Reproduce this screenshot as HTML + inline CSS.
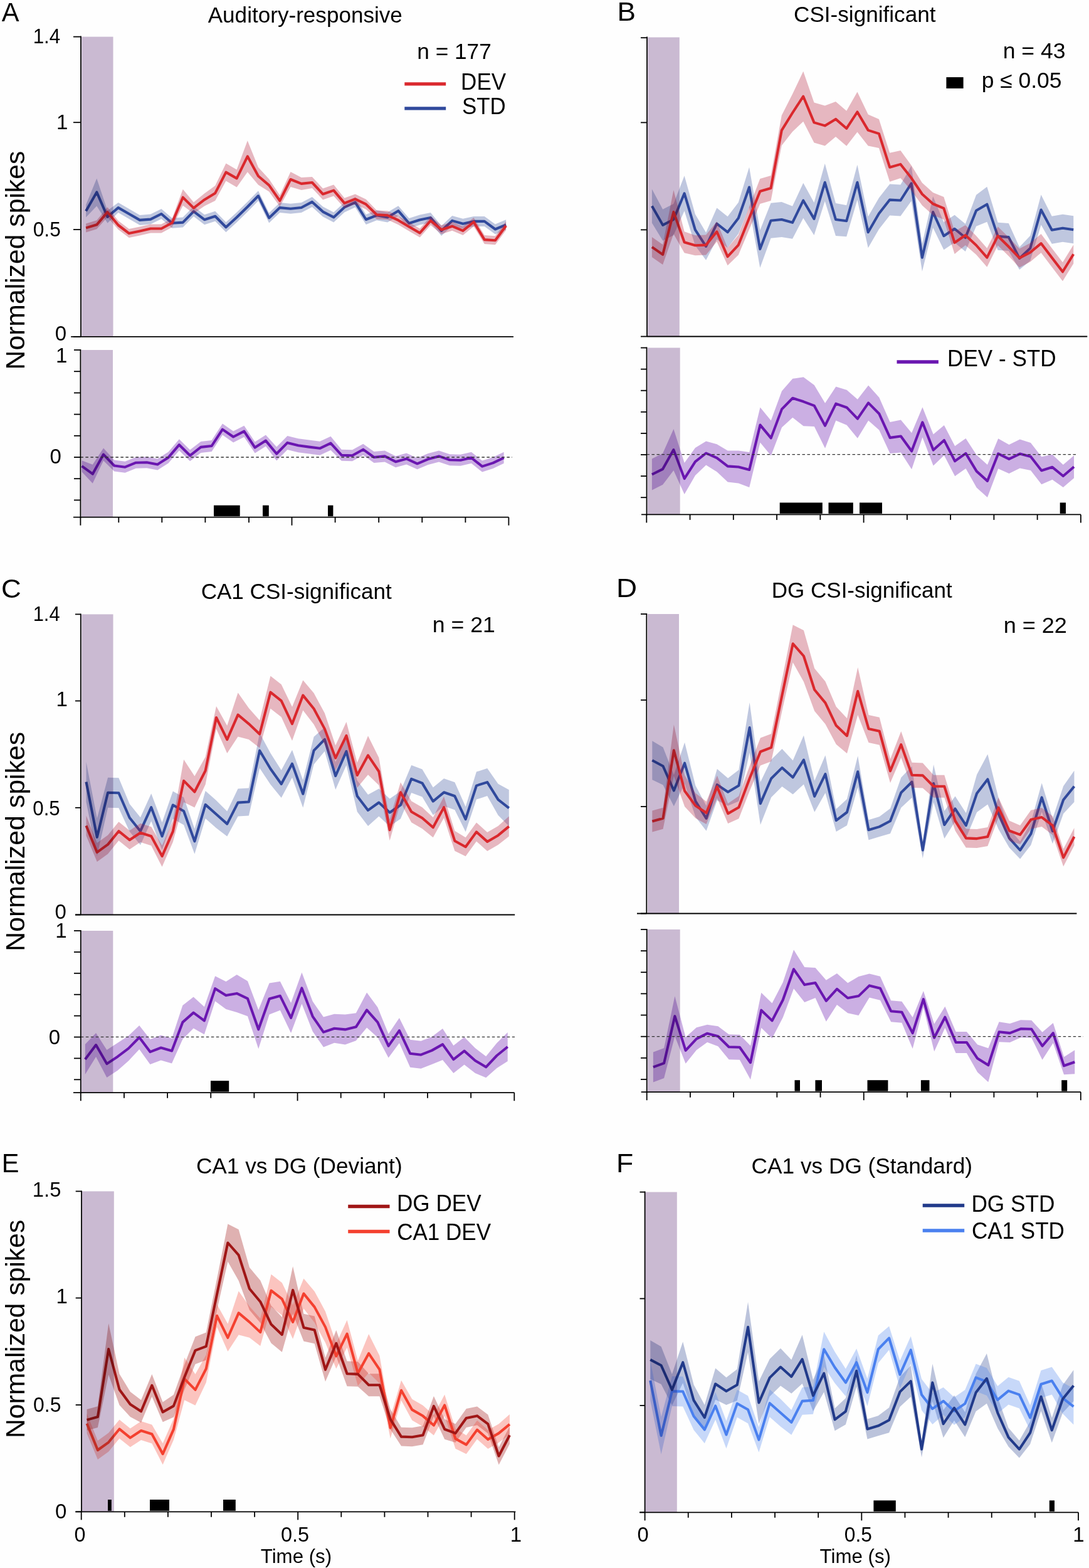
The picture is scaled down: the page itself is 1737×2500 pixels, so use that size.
<!DOCTYPE html>
<html><head><meta charset="utf-8"><title>Figure</title>
<style>html,body{margin:0;padding:0;background:#fefefe;}svg{display:block;}</style>
</head><body>
<svg width="1737" height="2500" viewBox="0 0 1737 2500" font-family="&quot;Liberation Sans&quot;, sans-serif" fill="#000">
<rect width="100%" height="100%" fill="#fefefe"/>
<polygon points="137.1,326.4 154.28,284.4 171.46,335.8 188.64,323.1 205.82,333 223,342.9 240.18,341.6 257.36,333 274.54,347.7 291.72,346.6 308.9,329.1 326.08,342.2 343.26,336.7 360.44,354.3 377.62,338.5 394.8,321.8 411.98,304.3 429.16,339.4 446.34,323.1 463.52,324.7 480.7,323 497.88,313.9 515.06,329.6 532.24,338.4 549.42,322.5 566.6,314.6 583.78,342 600.96,335.3 618.14,338.4 635.32,328.2 652.5,348 669.68,342.5 686.86,339.1 704.04,359.9 721.22,343.9 738.4,348.7 755.58,344.9 772.76,344.9 789.94,357.5 807.12,350.3 807.12,366.3 789.94,373.5 772.76,360.9 755.58,360.9 738.4,364.7 721.22,359.9 704.04,375.9 686.86,355.1 669.68,358.5 652.5,364 635.32,344.2 618.14,354.4 600.96,351.3 583.78,358 566.6,330.6 549.42,338.5 532.24,354.4 515.06,345.6 497.88,329.9 480.7,339 463.52,340.7 446.34,339.1 429.16,355.4 411.98,320.3 394.8,337.8 377.62,354.5 360.44,370.3 343.26,352.7 326.08,358.2 308.9,345.1 291.72,362.6 274.54,363.7 257.36,349 240.18,357.6 223,358.9 205.82,349 188.64,339.1 171.46,355.8 154.28,328.4 137.1,346.4" fill="#3a53a0" fill-opacity="0.32"/>
<polyline points="137.1,336.4 154.28,306.4 171.46,345.8 188.64,331.1 205.82,341 223,350.9 240.18,349.6 257.36,341 274.54,355.7 291.72,354.6 308.9,337.1 326.08,350.2 343.26,344.7 360.44,362.3 377.62,346.5 394.8,329.8 411.98,312.3 429.16,347.4 446.34,331.1 463.52,332.7 480.7,331 497.88,321.9 515.06,337.6 532.24,346.4 549.42,330.5 566.6,322.6 583.78,350 600.96,343.3 618.14,346.4 635.32,336.2 652.5,356 669.68,350.5 686.86,347.1 704.04,367.9 721.22,351.9 738.4,356.7 755.58,352.9 772.76,352.9 789.94,365.5 807.12,358.3" fill="none" stroke="#30499c" stroke-width="4.1" stroke-linejoin="round"/>
<polygon points="137.1,356.4 154.28,351.3 171.46,330.2 188.64,352 205.82,365.1 223,361.4 240.18,357.5 257.36,357.5 274.54,348.3 291.72,301.7 308.9,322.6 326.08,308.4 343.26,295.9 360.44,260.6 377.62,270.4 394.8,224.3 411.98,266.7 429.16,285.4 446.34,311.2 463.52,274 480.7,282.9 497.88,282 515.06,300.5 532.24,294.6 549.42,315.8 566.6,309.4 583.78,317.7 600.96,335.4 618.14,336.3 635.32,344.2 652.5,354.4 669.68,364.4 686.86,344.9 704.04,359.2 721.22,353.7 738.4,360.9 755.58,347 772.76,375.1 789.94,376.3 807.12,353 807.12,367 789.94,390.3 772.76,389.1 755.58,361 738.4,374.9 721.22,367.7 704.04,373.2 686.86,358.9 669.68,378.4 652.5,368.4 635.32,358.2 618.14,350.3 600.96,349.4 583.78,333.7 566.6,325.4 549.42,331.8 532.24,312.6 515.06,318.5 497.88,300 480.7,302.9 463.52,298 446.34,329.2 429.16,305.4 411.98,294.7 394.8,274.3 377.62,298.4 360.44,288.6 343.26,319.9 326.08,328.4 308.9,340.6 291.72,327.7 274.54,362.3 257.36,371.5 240.18,371.5 223,375.4 205.82,379.1 188.64,366 171.46,346.2 154.28,365.3 137.1,370.4" fill="#b21937" fill-opacity="0.31"/>
<polyline points="137.1,363.4 154.28,358.3 171.46,338.2 188.64,359 205.82,372.1 223,368.4 240.18,364.5 257.36,364.5 274.54,355.3 291.72,314.7 308.9,331.6 326.08,318.4 343.26,307.9 360.44,274.6 377.62,284.4 394.8,249.3 411.98,280.7 429.16,295.4 446.34,320.2 463.52,286 480.7,292.9 497.88,291 515.06,309.5 532.24,303.6 549.42,323.8 566.6,317.4 583.78,325.7 600.96,342.4 618.14,343.3 635.32,351.2 652.5,361.4 669.68,371.4 686.86,351.9 704.04,366.2 721.22,360.7 738.4,367.9 755.58,354 772.76,382.1 789.94,383.3 807.12,360" fill="none" stroke="#da282d" stroke-width="4.1" stroke-linejoin="round"/>
<rect x="130.3" y="58.6" width="50.2" height="478.2" fill="#cbbbd3" style="mix-blend-mode:multiply"/>
<line x1="129" y1="57.6" x2="129" y2="536.8" stroke="#000" stroke-width="1.8"/>
<line x1="113.2" y1="536.8" x2="819" y2="536.8" stroke="#000" stroke-width="1.8"/>
<line x1="117" y1="58.6" x2="129" y2="58.6" stroke="#000" stroke-width="1.8"/>
<line x1="117" y1="195.2" x2="129" y2="195.2" stroke="#000" stroke-width="1.8"/>
<line x1="117" y1="366" x2="129" y2="366" stroke="#000" stroke-width="1.8"/>
<line x1="117" y1="536.8" x2="129" y2="536.8" stroke="#000" stroke-width="1.8"/>
<polygon points="130.5,734.2 147.76,740.7 165.02,714.6 182.28,733.5 199.54,735.7 216.8,728.7 234.06,728.3 251.32,731.4 268.58,720.4 285.84,700.2 303.1,717.3 320.36,703.9 337.62,702 354.88,675.6 372.14,687.5 389.4,678.7 406.66,704.6 423.92,693.6 441.18,712.5 458.44,694.9 475.7,699.2 492.96,701.6 510.22,703.8 527.48,695.7 544.74,716.7 562,717.2 579.26,707.7 596.52,720 613.78,718.4 631.04,727.2 648.3,722.4 665.56,730.3 682.82,723.1 700.08,718.4 717.34,724.3 734.6,724.8 751.86,720.8 769.12,734.6 786.38,729.1 803.64,720.8 803.64,738.8 786.38,747.1 769.12,752.6 751.86,738.8 734.6,742.8 717.34,742.3 700.08,736.4 682.82,741.1 665.56,748.3 648.3,740.4 631.04,745.2 613.78,736.4 596.52,738 579.26,725.7 562,735.2 544.74,734.7 527.48,717.7 510.22,725.8 492.96,723.6 475.7,721.2 458.44,716.9 441.18,734.5 423.92,711.6 406.66,722.6 389.4,696.7 372.14,705.5 354.88,693.6 337.62,720 320.36,721.9 303.1,735.3 285.84,718.2 268.58,738.4 251.32,749.4 234.06,746.3 216.8,746.7 199.54,753.7 182.28,751.5 165.02,734.6 147.76,770.7 130.5,752.2" fill="#6a16b0" fill-opacity="0.34"/>
<polyline points="130.5,743.2 147.76,755.7 165.02,724.6 182.28,742.5 199.54,744.7 216.8,737.7 234.06,737.3 251.32,740.4 268.58,729.4 285.84,709.2 303.1,726.3 320.36,712.9 337.62,711 354.88,684.6 372.14,696.5 389.4,687.7 406.66,713.6 423.92,702.6 441.18,723.5 458.44,705.9 475.7,710.2 492.96,712.6 510.22,714.8 527.48,706.7 544.74,725.7 562,726.2 579.26,716.7 596.52,729 613.78,727.4 631.04,736.2 648.3,731.4 665.56,739.3 682.82,732.1 700.08,727.4 717.34,733.3 734.6,733.8 751.86,729.8 769.12,743.6 786.38,738.1 803.64,729.8" fill="none" stroke="#6a16b0" stroke-width="4.1" stroke-linejoin="round"/>
<rect x="129.6" y="558" width="50.4" height="266.7" fill="#cbbbd3" style="mix-blend-mode:multiply"/>
<line x1="128.4" y1="729" x2="817" y2="729" stroke="#333" stroke-width="1.3" stroke-dasharray="4.5 3.5"/>
<line x1="128.4" y1="557" x2="128.4" y2="825.7" stroke="#000" stroke-width="1.8"/>
<line x1="117" y1="824.7" x2="811.4" y2="824.7" stroke="#000" stroke-width="1.8"/>
<line x1="118" y1="558" x2="128.4" y2="558" stroke="#000" stroke-width="1.8"/>
<line x1="118" y1="592.2" x2="128.4" y2="592.2" stroke="#000" stroke-width="1.8"/>
<line x1="118" y1="626.4" x2="128.4" y2="626.4" stroke="#000" stroke-width="1.8"/>
<line x1="118" y1="660.6" x2="128.4" y2="660.6" stroke="#000" stroke-width="1.8"/>
<line x1="118" y1="694.8" x2="128.4" y2="694.8" stroke="#000" stroke-width="1.8"/>
<line x1="118" y1="729" x2="128.4" y2="729" stroke="#000" stroke-width="1.8"/>
<line x1="118" y1="763.2" x2="128.4" y2="763.2" stroke="#000" stroke-width="1.8"/>
<line x1="118" y1="797.4" x2="128.4" y2="797.4" stroke="#000" stroke-width="1.8"/>
<line x1="128.4" y1="824.7" x2="128.4" y2="837.7" stroke="#000" stroke-width="1.8"/>
<line x1="465.5" y1="824.7" x2="465.5" y2="837.7" stroke="#000" stroke-width="1.8"/>
<line x1="811.4" y1="824.7" x2="811.4" y2="837.7" stroke="#000" stroke-width="1.8"/>
<line x1="189.3" y1="824.7" x2="189.3" y2="833.2" stroke="#000" stroke-width="1.8"/>
<line x1="258.3" y1="824.7" x2="258.3" y2="833.2" stroke="#000" stroke-width="1.8"/>
<line x1="327.4" y1="824.7" x2="327.4" y2="833.2" stroke="#000" stroke-width="1.8"/>
<line x1="397" y1="824.7" x2="397" y2="833.2" stroke="#000" stroke-width="1.8"/>
<line x1="534.6" y1="824.7" x2="534.6" y2="833.2" stroke="#000" stroke-width="1.8"/>
<line x1="604.2" y1="824.7" x2="604.2" y2="833.2" stroke="#000" stroke-width="1.8"/>
<line x1="673.3" y1="824.7" x2="673.3" y2="833.2" stroke="#000" stroke-width="1.8"/>
<line x1="742.4" y1="824.7" x2="742.4" y2="833.2" stroke="#000" stroke-width="1.8"/>
<rect x="341" y="805.7" width="41.7" height="17.5" fill="#000"/>
<rect x="419" y="805.7" width="9.8" height="17.5" fill="#000"/>
<rect x="523" y="805.7" width="8.4" height="17.5" fill="#000"/>
<polygon points="1039.9,301.5 1057.14,333.8 1074.38,325 1091.62,280.3 1108.86,341.4 1126.1,370.8 1143.34,331.6 1160.58,345.2 1177.82,322.8 1195.06,266.5 1212.3,367.1 1229.54,323.8 1246.78,322 1264.02,328.8 1281.26,291.7 1298.5,322.9 1315.74,260.8 1332.98,324 1350.22,327.2 1367.46,262.8 1384.7,345.2 1401.94,315.5 1419.18,293.6 1436.42,294.5 1453.66,264.4 1470.9,388.7 1488.14,313.1 1505.38,354.2 1522.62,342.8 1539.86,357 1557.1,310.7 1574.34,297.7 1591.58,354.7 1608.82,356.1 1626.06,393.9 1643.3,375.7 1660.54,310.5 1677.78,344.7 1695.02,341.8 1712.26,344.2 1712.26,388.2 1695.02,385.8 1677.78,388.7 1660.54,358.5 1643.3,415.7 1626.06,429.9 1608.82,400.1 1591.58,398.7 1574.34,353.7 1557.1,360.7 1539.86,401 1522.62,386.8 1505.38,398.2 1488.14,363.1 1470.9,432.7 1453.66,320.4 1436.42,344.5 1419.18,343.6 1401.94,365.5 1384.7,395.2 1367.46,318.8 1350.22,377.2 1332.98,376 1315.74,320.8 1298.5,374.9 1281.26,347.7 1264.02,380.8 1246.78,378 1229.54,379.8 1212.3,427.1 1195.06,330.5 1177.82,372.8 1160.58,395.2 1143.34,381.6 1126.1,414.8 1108.86,391.4 1091.62,336.3 1074.38,375 1057.14,383.8 1039.9,355.5" fill="#3a53a0" fill-opacity="0.32"/>
<polyline points="1039.9,328.5 1057.14,358.8 1074.38,350 1091.62,308.3 1108.86,366.4 1126.1,392.8 1143.34,356.6 1160.58,370.2 1177.82,347.8 1195.06,298.5 1212.3,397.1 1229.54,351.8 1246.78,350 1264.02,354.8 1281.26,319.7 1298.5,348.9 1315.74,290.8 1332.98,350 1350.22,352.2 1367.46,290.8 1384.7,370.2 1401.94,340.5 1419.18,318.6 1436.42,319.5 1453.66,292.4 1470.9,410.7 1488.14,338.1 1505.38,376.2 1522.62,364.8 1539.86,379 1557.1,335.7 1574.34,325.7 1591.58,376.7 1608.82,378.1 1626.06,411.9 1643.3,395.7 1660.54,334.5 1677.78,366.7 1695.02,363.8 1712.26,366.2" fill="none" stroke="#30499c" stroke-width="4.1" stroke-linejoin="round"/>
<polygon points="1039.9,377.9 1057.14,389.9 1074.38,302.9 1091.62,369.2 1108.86,375.2 1126.1,374.6 1143.34,353.3 1160.58,395.2 1177.82,374.6 1195.06,329.8 1212.3,285 1229.54,280 1246.78,183.9 1264.02,150 1281.26,113.7 1298.5,163.4 1315.74,168.4 1332.98,161.9 1350.22,176.8 1367.46,146.5 1384.7,182.6 1401.94,190.1 1419.18,243.7 1436.42,239.9 1453.66,263.8 1470.9,291.5 1488.14,307 1505.38,314.1 1522.62,368.9 1539.86,359 1557.1,376 1574.34,395.7 1591.58,361.2 1608.82,378.3 1626.06,396.4 1643.3,387.4 1660.54,373.1 1677.78,395.7 1695.02,418.3 1712.26,390.2 1712.26,420.2 1695.02,448.3 1677.78,425.7 1660.54,403.1 1643.3,417.4 1626.06,426.4 1608.82,408.3 1591.58,391.2 1574.34,425.7 1557.1,406 1539.86,391 1522.62,404.9 1505.38,350.1 1488.14,343 1470.9,327.5 1453.66,303.8 1436.42,283.9 1419.18,289.7 1401.94,236.1 1384.7,232.6 1367.46,210.5 1350.22,232.8 1332.98,217.9 1315.74,232.4 1298.5,227.4 1281.26,193.7 1264.02,210 1246.78,231.9 1229.54,320 1212.3,325 1195.06,365.8 1177.82,406.6 1160.58,423.2 1143.34,385.3 1126.1,406.6 1108.86,407.2 1091.62,403.2 1074.38,372.9 1057.14,421.9 1039.9,409.9" fill="#b21937" fill-opacity="0.31"/>
<polyline points="1039.9,393.9 1057.14,405.9 1074.38,337.9 1091.62,386.2 1108.86,391.2 1126.1,390.6 1143.34,369.3 1160.58,409.2 1177.82,390.6 1195.06,347.8 1212.3,305 1229.54,300 1246.78,207.9 1264.02,180 1281.26,153.7 1298.5,195.4 1315.74,200.4 1332.98,189.9 1350.22,204.8 1367.46,178.5 1384.7,207.6 1401.94,213.1 1419.18,266.7 1436.42,261.9 1453.66,283.8 1470.9,309.5 1488.14,325 1505.38,332.1 1522.62,386.9 1539.86,375 1557.1,391 1574.34,410.7 1591.58,376.2 1608.82,393.3 1626.06,411.4 1643.3,402.4 1660.54,388.1 1677.78,410.7 1695.02,433.3 1712.26,405.2" fill="none" stroke="#da282d" stroke-width="4.1" stroke-linejoin="round"/>
<rect x="1033.2" y="59.5" width="50.6" height="477" fill="#cbbbd3" style="mix-blend-mode:multiply"/>
<line x1="1032" y1="58.5" x2="1032" y2="536.5" stroke="#000" stroke-width="1.8"/>
<line x1="1032" y1="536.5" x2="1734.3" y2="536.5" stroke="#000" stroke-width="1.8"/>
<line x1="1022" y1="60.2" x2="1032" y2="60.2" stroke="#000" stroke-width="1.8"/>
<line x1="1022" y1="195.4" x2="1032" y2="195.4" stroke="#000" stroke-width="1.8"/>
<line x1="1022" y1="366.4" x2="1032" y2="366.4" stroke="#000" stroke-width="1.8"/>
<line x1="1022" y1="536.5" x2="1032" y2="536.5" stroke="#000" stroke-width="1.8"/>
<polygon points="1039.9,731.5 1057.16,722.8 1074.42,684.1 1091.68,738.1 1108.94,714.1 1126.2,703.5 1143.46,708.2 1160.72,718.4 1177.98,718.5 1195.24,720.9 1212.5,649.6 1229.76,670.4 1247.02,623.4 1264.28,603.8 1281.54,601.3 1298.8,613.9 1316.06,642.7 1333.32,616.6 1350.58,621.7 1367.84,636.7 1385.1,614.4 1402.36,633.8 1419.62,672.9 1436.88,669.5 1454.14,690.3 1471.4,649.3 1488.66,692.6 1505.92,677.9 1523.18,711.2 1540.44,698.9 1557.7,725.4 1574.96,740.9 1592.22,699.3 1609.48,708.9 1626.74,700.6 1644,706.1 1661.26,728.2 1678.52,724.8 1695.78,741 1713.04,726.3 1713.04,762.3 1695.78,777 1678.52,764.8 1661.26,772.2 1644,750.1 1626.74,746.6 1609.48,754.9 1592.22,747.3 1574.96,792.9 1557.7,777.4 1540.44,746.9 1523.18,759.2 1505.92,725.9 1488.66,742.6 1471.4,697.3 1454.14,748.3 1436.88,721.5 1419.62,722.9 1402.36,685.8 1385.1,670.4 1367.84,698.7 1350.58,677.7 1333.32,670.6 1316.06,714.7 1298.8,679.9 1281.54,679.3 1264.28,665.8 1247.02,681.4 1229.76,726.4 1212.5,705.6 1195.24,776.9 1177.98,770.5 1160.72,768.4 1143.46,752.2 1126.2,741.5 1108.94,758.1 1091.68,788.1 1074.42,750.1 1057.16,772.8 1039.9,781.5" fill="#6a16b0" fill-opacity="0.34"/>
<polyline points="1039.9,756.5 1057.16,747.8 1074.42,717.1 1091.68,763.1 1108.94,736.1 1126.2,722.5 1143.46,730.2 1160.72,743.4 1177.98,744.5 1195.24,748.9 1212.5,677.6 1229.76,698.4 1247.02,652.4 1264.28,634.8 1281.54,640.3 1298.8,646.9 1316.06,678.7 1333.32,643.6 1350.58,649.7 1367.84,667.7 1385.1,642.4 1402.36,659.8 1419.62,697.9 1436.88,695.5 1454.14,719.3 1471.4,673.3 1488.66,717.6 1505.92,701.9 1523.18,735.2 1540.44,722.9 1557.7,751.4 1574.96,766.9 1592.22,723.3 1609.48,731.9 1626.74,723.6 1644,728.1 1661.26,750.2 1678.52,744.8 1695.78,759 1713.04,744.3" fill="none" stroke="#6a16b0" stroke-width="4.1" stroke-linejoin="round"/>
<rect x="1033" y="554.5" width="51.7" height="265.9" fill="#cbbbd3" style="mix-blend-mode:multiply"/>
<line x1="1031.5" y1="724.7" x2="1717" y2="724.7" stroke="#333" stroke-width="1.3" stroke-dasharray="4.5 3.5"/>
<line x1="1031.5" y1="553.5" x2="1031.5" y2="821.4" stroke="#000" stroke-width="1.8"/>
<line x1="1023" y1="820.4" x2="1724" y2="820.4" stroke="#000" stroke-width="1.8"/>
<line x1="1022" y1="554.5" x2="1031.5" y2="554.5" stroke="#000" stroke-width="1.8"/>
<line x1="1022" y1="588.6" x2="1031.5" y2="588.6" stroke="#000" stroke-width="1.8"/>
<line x1="1022" y1="622.7" x2="1031.5" y2="622.7" stroke="#000" stroke-width="1.8"/>
<line x1="1022" y1="656.8" x2="1031.5" y2="656.8" stroke="#000" stroke-width="1.8"/>
<line x1="1022" y1="690.9" x2="1031.5" y2="690.9" stroke="#000" stroke-width="1.8"/>
<line x1="1022" y1="725" x2="1031.5" y2="725" stroke="#000" stroke-width="1.8"/>
<line x1="1022" y1="759.1" x2="1031.5" y2="759.1" stroke="#000" stroke-width="1.8"/>
<line x1="1022" y1="793.2" x2="1031.5" y2="793.2" stroke="#000" stroke-width="1.8"/>
<line x1="1031.3" y1="820.4" x2="1031.3" y2="833.4" stroke="#000" stroke-width="1.8"/>
<line x1="1377.6" y1="820.4" x2="1377.6" y2="833.4" stroke="#000" stroke-width="1.8"/>
<line x1="1723.9" y1="820.4" x2="1723.9" y2="833.4" stroke="#000" stroke-width="1.8"/>
<line x1="1100.56" y1="820.4" x2="1100.56" y2="828.9" stroke="#000" stroke-width="1.8"/>
<line x1="1169.82" y1="820.4" x2="1169.82" y2="828.9" stroke="#000" stroke-width="1.8"/>
<line x1="1239.08" y1="820.4" x2="1239.08" y2="828.9" stroke="#000" stroke-width="1.8"/>
<line x1="1308.34" y1="820.4" x2="1308.34" y2="828.9" stroke="#000" stroke-width="1.8"/>
<line x1="1446.86" y1="820.4" x2="1446.86" y2="828.9" stroke="#000" stroke-width="1.8"/>
<line x1="1516.12" y1="820.4" x2="1516.12" y2="828.9" stroke="#000" stroke-width="1.8"/>
<line x1="1585.38" y1="820.4" x2="1585.38" y2="828.9" stroke="#000" stroke-width="1.8"/>
<line x1="1654.64" y1="820.4" x2="1654.64" y2="828.9" stroke="#000" stroke-width="1.8"/>
<rect x="1243.7" y="801.4" width="68.1" height="17.5" fill="#000"/>
<rect x="1321.5" y="801.4" width="39.3" height="17.5" fill="#000"/>
<rect x="1371" y="801.4" width="36" height="17.5" fill="#000"/>
<rect x="1690.7" y="801.4" width="9.3" height="17.5" fill="#000"/>
<polygon points="137.5,1214.7 154.79,1304.8 172.08,1239.8 189.37,1240.2 206.66,1281.7 223.95,1303.2 241.24,1265.2 258.53,1311.3 275.82,1261.5 293.11,1271.2 310.4,1321.4 327.69,1260.9 344.98,1276.2 362.27,1293.6 379.56,1257.6 396.85,1256.5 414.14,1168.7 431.43,1200.8 448.72,1228 466.01,1195.7 483.3,1243.7 500.59,1174.7 517.88,1159.8 535.17,1215.1 552.46,1175.9 569.75,1244.3 587.04,1266.9 604.33,1257.5 621.62,1273.5 638.91,1261.6 656.2,1219.9 673.49,1226.6 690.78,1255.6 708.07,1241.3 725.36,1247.3 742.65,1286.2 759.94,1230.6 777.23,1225.1 794.52,1249.8 811.81,1259.3 811.81,1317.3 794.52,1299.8 777.23,1269.1 759.94,1274.6 742.65,1326.2 725.36,1291.3 708.07,1285.3 690.78,1299.6 673.49,1270.6 656.2,1263.9 638.91,1305.6 621.62,1317.5 604.33,1301.5 587.04,1316.9 569.75,1294.3 552.46,1219.9 535.17,1259.1 517.88,1197.8 500.59,1218.7 483.3,1287.7 466.01,1239.7 448.72,1272 431.43,1250.8 414.14,1224.7 396.85,1300.5 379.56,1301.6 362.27,1333.6 344.98,1320.2 327.69,1304.9 310.4,1361.4 293.11,1315.2 275.82,1305.5 258.53,1355.3 241.24,1309.2 223.95,1347.2 206.66,1325.7 189.37,1288.2 172.08,1287.8 154.79,1364.8 137.5,1278.7" fill="#3a53a0" fill-opacity="0.32"/>
<polyline points="137.5,1246.7 154.79,1334.8 172.08,1263.8 189.37,1264.2 206.66,1303.7 223.95,1325.2 241.24,1287.2 258.53,1333.3 275.82,1283.5 293.11,1293.2 310.4,1341.4 327.69,1282.9 344.98,1298.2 362.27,1313.6 379.56,1279.6 396.85,1278.5 414.14,1196.7 431.43,1225.8 448.72,1250 466.01,1217.7 483.3,1265.7 500.59,1196.7 517.88,1178.8 535.17,1237.1 552.46,1197.9 569.75,1269.3 587.04,1291.9 604.33,1279.5 621.62,1295.5 638.91,1283.6 656.2,1241.9 673.49,1248.6 690.78,1277.6 708.07,1263.3 725.36,1269.3 742.65,1306.2 759.94,1252.6 777.23,1247.1 794.52,1274.8 811.81,1288.3" fill="none" stroke="#30499c" stroke-width="4.1" stroke-linejoin="round"/>
<polygon points="137.5,1300.4 154.79,1343.9 172.08,1331.4 189.37,1310.2 206.66,1324.2 223.95,1312.8 241.24,1318.3 258.53,1348.1 275.82,1308.6 293.11,1210.9 310.4,1237.5 327.69,1206.7 344.98,1126 362.27,1157.1 379.56,1104.6 396.85,1129.1 414.14,1148.4 431.43,1077.7 448.72,1091.3 466.01,1127.1 483.3,1084.6 500.59,1105 517.88,1137.1 535.17,1188.6 552.46,1150.9 569.75,1216 587.04,1173.3 604.33,1208 621.62,1306.3 638.91,1247.3 656.2,1277.3 673.49,1287.3 690.78,1303.3 708.07,1270.1 725.36,1324.7 742.65,1335.2 759.94,1311.4 777.23,1326.9 794.52,1316.9 811.81,1301.6 811.81,1333.6 794.52,1346.9 777.23,1356.9 759.94,1341.4 742.65,1365.2 725.36,1356.7 708.07,1304.1 690.78,1335.3 673.49,1321.3 656.2,1311.3 638.91,1279.3 621.62,1340.3 604.33,1252 587.04,1235.3 569.75,1256 552.46,1194.9 535.17,1228.6 517.88,1187.1 500.59,1155 483.3,1132.6 466.01,1181.1 448.72,1143.3 431.43,1129.7 414.14,1192.4 396.85,1179.1 379.56,1174.6 362.27,1201.1 344.98,1162 327.69,1250.7 310.4,1287.5 293.11,1278.9 275.82,1342.6 258.53,1382.1 241.24,1348.3 223.95,1342.8 206.66,1354.2 189.37,1340.2 172.08,1361.4 154.79,1373.9 137.5,1332.4" fill="#b21937" fill-opacity="0.31"/>
<polyline points="137.5,1316.4 154.79,1358.9 172.08,1346.4 189.37,1325.2 206.66,1339.2 223.95,1327.8 241.24,1333.3 258.53,1365.1 275.82,1325.6 293.11,1244.9 310.4,1262.5 327.69,1228.7 344.98,1144 362.27,1179.1 379.56,1139.6 396.85,1154.1 414.14,1170.4 431.43,1103.7 448.72,1117.3 466.01,1154.1 483.3,1108.6 500.59,1130 517.88,1162.1 535.17,1208.6 552.46,1172.9 569.75,1236 587.04,1204.3 604.33,1230 621.62,1323.3 638.91,1263.3 656.2,1294.3 673.49,1304.3 690.78,1319.3 708.07,1287.1 725.36,1340.7 742.65,1350.2 759.94,1326.4 777.23,1341.9 794.52,1331.9 811.81,1317.6" fill="none" stroke="#da282d" stroke-width="4.1" stroke-linejoin="round"/>
<rect x="130.3" y="979.4" width="50.2" height="479.1" fill="#cbbbd3" style="mix-blend-mode:multiply"/>
<line x1="128.8" y1="978.4" x2="128.8" y2="1458.5" stroke="#000" stroke-width="1.8"/>
<line x1="120" y1="1458.5" x2="821.2" y2="1458.5" stroke="#000" stroke-width="1.8"/>
<line x1="120" y1="979.4" x2="128.8" y2="979.4" stroke="#000" stroke-width="1.8"/>
<line x1="120" y1="1117.5" x2="128.8" y2="1117.5" stroke="#000" stroke-width="1.8"/>
<line x1="120" y1="1287.8" x2="128.8" y2="1287.8" stroke="#000" stroke-width="1.8"/>
<line x1="120" y1="1458.5" x2="128.8" y2="1458.5" stroke="#000" stroke-width="1.8"/>
<polygon points="135.8,1665.1 153.08,1647.1 170.36,1674.1 187.64,1662.7 204.92,1651.6 222.2,1635 239.48,1657.1 256.76,1650.5 274.04,1655.5 291.32,1602.9 308.6,1589.6 325.88,1605.3 343.16,1556.2 360.44,1565.1 377.72,1553.9 395,1564.2 412.28,1610.3 429.56,1567.6 446.84,1564.8 464.12,1598.9 481.4,1550.4 498.68,1596.6 515.96,1621.6 533.24,1616.7 550.52,1617.4 567.8,1615.3 585.08,1582.4 602.36,1605.9 619.64,1648.6 636.92,1623.1 654.2,1657.8 671.48,1659.7 688.76,1652.9 706.04,1640.1 723.32,1667.1 740.6,1653.6 757.88,1671 775.16,1684.3 792.44,1663 809.72,1646 809.72,1692 792.44,1703 775.16,1718.3 757.88,1711 740.6,1697.6 723.32,1711.1 706.04,1690.1 688.76,1696.9 671.48,1703.7 654.2,1701.8 636.92,1663.1 619.64,1686.6 602.36,1653.9 585.08,1638.4 567.8,1659.3 550.52,1665.4 533.24,1662.7 515.96,1669.6 498.68,1644.6 481.4,1600.4 464.12,1646.9 446.84,1610.8 429.56,1617.6 412.28,1672.3 395,1620.2 377.72,1613.9 360.44,1609.1 343.16,1596.2 325.88,1649.3 308.6,1639.6 291.32,1656.9 274.04,1695.5 256.76,1690.5 239.48,1697.1 222.2,1673 204.92,1691.6 187.64,1706.7 170.36,1718.1 153.08,1685.1 135.8,1713.1" fill="#6a16b0" fill-opacity="0.34"/>
<polyline points="135.8,1689.1 153.08,1666.1 170.36,1696.1 187.64,1684.7 204.92,1671.6 222.2,1654 239.48,1677.1 256.76,1670.5 274.04,1675.5 291.32,1629.9 308.6,1614.6 325.88,1627.3 343.16,1576.2 360.44,1587.1 377.72,1583.9 395,1592.2 412.28,1641.3 429.56,1592.6 446.84,1587.8 464.12,1622.9 481.4,1575.4 498.68,1620.6 515.96,1645.6 533.24,1639.7 550.52,1641.4 567.8,1637.3 585.08,1610.4 602.36,1629.9 619.64,1667.6 636.92,1643.1 654.2,1679.8 671.48,1681.7 688.76,1674.9 706.04,1665.1 723.32,1689.1 740.6,1675.6 757.88,1691 775.16,1701.3 792.44,1683 809.72,1669" fill="none" stroke="#6a16b0" stroke-width="4.1" stroke-linejoin="round"/>
<rect x="129.6" y="1484" width="50.7" height="258.2" fill="#cbbbd3" style="mix-blend-mode:multiply"/>
<line x1="128.8" y1="1653.3" x2="821" y2="1653.3" stroke="#333" stroke-width="1.3" stroke-dasharray="4.5 3.5"/>
<line x1="128.8" y1="1483" x2="128.8" y2="1743.2" stroke="#000" stroke-width="1.8"/>
<line x1="117" y1="1742.2" x2="820.5" y2="1742.2" stroke="#000" stroke-width="1.8"/>
<line x1="118" y1="1484" x2="128.8" y2="1484" stroke="#000" stroke-width="1.8"/>
<line x1="118" y1="1517.9" x2="128.8" y2="1517.9" stroke="#000" stroke-width="1.8"/>
<line x1="118" y1="1551.8" x2="128.8" y2="1551.8" stroke="#000" stroke-width="1.8"/>
<line x1="118" y1="1585.7" x2="128.8" y2="1585.7" stroke="#000" stroke-width="1.8"/>
<line x1="118" y1="1619.6" x2="128.8" y2="1619.6" stroke="#000" stroke-width="1.8"/>
<line x1="118" y1="1653.5" x2="128.8" y2="1653.5" stroke="#000" stroke-width="1.8"/>
<line x1="118" y1="1687.4" x2="128.8" y2="1687.4" stroke="#000" stroke-width="1.8"/>
<line x1="118" y1="1721.3" x2="128.8" y2="1721.3" stroke="#000" stroke-width="1.8"/>
<line x1="128.8" y1="1742.2" x2="128.8" y2="1755.2" stroke="#000" stroke-width="1.8"/>
<line x1="474.55" y1="1742.2" x2="474.55" y2="1755.2" stroke="#000" stroke-width="1.8"/>
<line x1="820.3" y1="1742.2" x2="820.3" y2="1755.2" stroke="#000" stroke-width="1.8"/>
<line x1="197.95" y1="1742.2" x2="197.95" y2="1750.7" stroke="#000" stroke-width="1.8"/>
<line x1="267.1" y1="1742.2" x2="267.1" y2="1750.7" stroke="#000" stroke-width="1.8"/>
<line x1="336.25" y1="1742.2" x2="336.25" y2="1750.7" stroke="#000" stroke-width="1.8"/>
<line x1="405.4" y1="1742.2" x2="405.4" y2="1750.7" stroke="#000" stroke-width="1.8"/>
<line x1="543.7" y1="1742.2" x2="543.7" y2="1750.7" stroke="#000" stroke-width="1.8"/>
<line x1="612.85" y1="1742.2" x2="612.85" y2="1750.7" stroke="#000" stroke-width="1.8"/>
<line x1="682" y1="1742.2" x2="682" y2="1750.7" stroke="#000" stroke-width="1.8"/>
<line x1="751.15" y1="1742.2" x2="751.15" y2="1750.7" stroke="#000" stroke-width="1.8"/>
<rect x="336" y="1723.2" width="29.2" height="17.5" fill="#000"/>
<polygon points="1040.3,1181.3 1057.56,1191.5 1074.82,1235.5 1092.08,1183.7 1109.34,1252.4 1126.6,1284.8 1143.86,1226.1 1161.12,1240.7 1178.38,1227.6 1195.64,1120.1 1212.9,1247.1 1230.16,1211.2 1247.42,1194.1 1264.68,1212.5 1281.94,1172.6 1299.2,1244.7 1316.46,1204.2 1333.72,1290.1 1350.98,1274 1368.24,1205.3 1385.5,1307.3 1402.76,1302.1 1420.02,1289 1437.28,1239.8 1454.54,1221.7 1471.8,1342.5 1489.06,1219 1506.32,1293 1523.58,1269.5 1540.84,1296.2 1558.1,1235 1575.36,1202.4 1592.62,1272.1 1609.88,1321.4 1627.14,1341.5 1644.4,1311.3 1661.66,1248.4 1678.92,1305.2 1696.18,1253.2 1713.44,1228.8 1713.44,1278.8 1696.18,1297.2 1678.92,1345.2 1661.66,1294.4 1644.4,1347.3 1627.14,1369.5 1609.88,1351.4 1592.62,1322.1 1575.36,1282.4 1558.1,1295 1540.84,1336.2 1523.58,1309.5 1506.32,1337 1489.06,1279 1471.8,1368.5 1454.54,1271.7 1437.28,1287.8 1420.02,1329 1402.76,1334.1 1385.5,1339.3 1368.24,1255.3 1350.98,1316 1333.72,1326.1 1316.46,1264.2 1299.2,1294.7 1281.94,1250.6 1264.68,1266.5 1247.42,1254.1 1230.16,1271.2 1212.9,1315.1 1195.64,1200.1 1178.38,1277.6 1161.12,1284.7 1143.86,1276.1 1126.6,1324.8 1109.34,1302.4 1092.08,1249.7 1074.82,1285.5 1057.56,1251.5 1040.3,1243.3" fill="#3a53a0" fill-opacity="0.32"/>
<polyline points="1040.3,1212.3 1057.56,1221.5 1074.82,1260.5 1092.08,1216.7 1109.34,1277.4 1126.6,1304.8 1143.86,1251.1 1161.12,1262.7 1178.38,1252.6 1195.64,1160.1 1212.9,1281.1 1230.16,1241.2 1247.42,1224.1 1264.68,1239.5 1281.94,1211.6 1299.2,1269.7 1316.46,1234.2 1333.72,1308.1 1350.98,1295 1368.24,1230.3 1385.5,1323.3 1402.76,1318.1 1420.02,1309 1437.28,1263.8 1454.54,1246.7 1471.8,1355.5 1489.06,1249 1506.32,1315 1523.58,1289.5 1540.84,1316.2 1558.1,1265 1575.36,1242.4 1592.62,1297.1 1609.88,1336.4 1627.14,1355.5 1644.4,1329.3 1661.66,1271.4 1678.92,1325.2 1696.18,1275.2 1713.44,1253.8" fill="none" stroke="#30499c" stroke-width="4.1" stroke-linejoin="round"/>
<polygon points="1040.3,1292.6 1057.56,1287.8 1074.82,1155.3 1092.08,1236 1109.34,1264.6 1126.6,1278 1143.86,1236.4 1161.12,1281.1 1178.38,1269.3 1195.64,1221.2 1212.9,1176.5 1230.16,1169.9 1247.42,1083.6 1264.68,996.3 1281.94,1005 1299.2,1065.8 1316.46,1086.6 1333.72,1126.8 1350.98,1145.2 1368.24,1064 1385.5,1139.9 1402.76,1143.7 1420.02,1210.3 1437.28,1166.1 1454.54,1215.7 1471.8,1216.4 1489.06,1235.8 1506.32,1235.8 1523.58,1292.6 1540.84,1321.4 1558.1,1322.1 1575.36,1319 1592.62,1271.6 1609.88,1308.5 1627.14,1315.9 1644.4,1291.7 1661.66,1288.1 1678.92,1301.2 1696.18,1353.4 1713.44,1320 1713.44,1348 1696.18,1381.4 1678.92,1331.2 1661.66,1318.1 1644.4,1321.7 1627.14,1345.9 1609.88,1340.5 1592.62,1303.6 1575.36,1349 1558.1,1352.1 1540.84,1351.4 1523.58,1324.6 1506.32,1271.8 1489.06,1271.8 1471.8,1256.4 1454.54,1255.7 1437.28,1208.1 1420.02,1248.3 1402.76,1187.7 1385.5,1183.9 1368.24,1140 1350.98,1201.2 1333.72,1186.8 1316.46,1154.6 1299.2,1133.8 1281.94,1087 1264.68,1056.3 1247.42,1133.6 1230.16,1213.9 1212.9,1220.5 1195.64,1261.2 1178.38,1305.3 1161.12,1313.1 1143.86,1272.4 1126.6,1314 1109.34,1304.6 1092.08,1286 1074.82,1237.3 1057.56,1321.8 1040.3,1326.6" fill="#b21937" fill-opacity="0.31"/>
<polyline points="1040.3,1309.6 1057.56,1304.8 1074.82,1196.3 1092.08,1261 1109.34,1284.6 1126.6,1296 1143.86,1254.4 1161.12,1297.1 1178.38,1287.3 1195.64,1241.2 1212.9,1198.5 1230.16,1191.9 1247.42,1108.6 1264.68,1026.3 1281.94,1046 1299.2,1099.8 1316.46,1120.6 1333.72,1156.8 1350.98,1173.2 1368.24,1102 1385.5,1161.9 1402.76,1165.7 1420.02,1229.3 1437.28,1187.1 1454.54,1235.7 1471.8,1236.4 1489.06,1253.8 1506.32,1253.8 1523.58,1308.6 1540.84,1336.4 1558.1,1337.1 1575.36,1334 1592.62,1287.6 1609.88,1324.5 1627.14,1330.9 1644.4,1306.7 1661.66,1303.1 1678.92,1316.2 1696.18,1367.4 1713.44,1334" fill="none" stroke="#da282d" stroke-width="4.1" stroke-linejoin="round"/>
<rect x="1033" y="979" width="50" height="477.5" fill="#cbbbd3" style="mix-blend-mode:multiply"/>
<line x1="1031.3" y1="978" x2="1031.3" y2="1456.5" stroke="#000" stroke-width="1.8"/>
<line x1="1016" y1="1456.5" x2="1717.4" y2="1456.5" stroke="#000" stroke-width="1.8"/>
<line x1="1022" y1="979" x2="1031.3" y2="979" stroke="#000" stroke-width="1.8"/>
<line x1="1022" y1="1116.2" x2="1031.3" y2="1116.2" stroke="#000" stroke-width="1.8"/>
<line x1="1022" y1="1286" x2="1031.3" y2="1286" stroke="#000" stroke-width="1.8"/>
<line x1="1022" y1="1456.5" x2="1031.3" y2="1456.5" stroke="#000" stroke-width="1.8"/>
<polygon points="1041.9,1677.4 1059.14,1671.1 1076.38,1588.2 1093.62,1653.8 1110.86,1638.3 1128.1,1633.7 1145.34,1636.2 1162.58,1649.3 1179.82,1649.8 1197.06,1667.2 1214.3,1582.7 1231.54,1599.4 1248.78,1566.2 1266.02,1514.3 1283.26,1542.1 1300.5,1543.1 1317.74,1562.8 1334.98,1551.9 1352.22,1567.3 1369.46,1557.1 1386.7,1552.4 1403.94,1556.7 1421.18,1595.2 1438.42,1596.7 1455.66,1622.1 1472.9,1580.1 1490.14,1632.5 1507.38,1604.7 1524.62,1645 1541.86,1645 1559.1,1665.6 1576.34,1671.3 1593.58,1629.3 1610.82,1632.1 1628.06,1626.3 1645.3,1626.8 1662.54,1645.7 1679.78,1631.1 1697.02,1685.3 1714.26,1674.3 1714.26,1712.3 1697.02,1713.3 1679.78,1663.1 1662.54,1689.7 1645.3,1654.8 1628.06,1654.3 1610.82,1662.1 1593.58,1661.3 1576.34,1725.3 1559.1,1709.6 1541.86,1679 1524.62,1679 1507.38,1638.7 1490.14,1676.5 1472.9,1606.1 1455.66,1672.1 1438.42,1630.7 1421.18,1629.2 1403.94,1594.7 1386.7,1590.4 1369.46,1619.1 1352.22,1615.3 1334.98,1601.9 1317.74,1628.8 1300.5,1591.1 1283.26,1598.1 1266.02,1576.3 1248.78,1622.2 1231.54,1655.4 1214.3,1638.7 1197.06,1721.2 1179.82,1689.8 1162.58,1689.3 1145.34,1668.2 1128.1,1661.7 1110.86,1674.3 1093.62,1695.8 1076.38,1652.2 1059.14,1719.1 1041.9,1725.4" fill="#6a16b0" fill-opacity="0.34"/>
<polyline points="1041.9,1701.4 1059.14,1695.1 1076.38,1620.2 1093.62,1674.8 1110.86,1656.3 1128.1,1647.7 1145.34,1652.2 1162.58,1669.3 1179.82,1669.8 1197.06,1694.2 1214.3,1610.7 1231.54,1627.4 1248.78,1594.2 1266.02,1545.3 1283.26,1570.1 1300.5,1567.1 1317.74,1595.8 1334.98,1576.9 1352.22,1591.3 1369.46,1588.1 1386.7,1571.4 1403.94,1575.7 1421.18,1612.2 1438.42,1613.7 1455.66,1647.1 1472.9,1593.1 1490.14,1654.5 1507.38,1621.7 1524.62,1662 1541.86,1662 1559.1,1687.6 1576.34,1698.3 1593.58,1645.3 1610.82,1647.1 1628.06,1640.3 1645.3,1640.8 1662.54,1667.7 1679.78,1647.1 1697.02,1699.3 1714.26,1693.3" fill="none" stroke="#6a16b0" stroke-width="4.1" stroke-linejoin="round"/>
<rect x="1033" y="1481.9" width="51.7" height="259.3" fill="#cbbbd3" style="mix-blend-mode:multiply"/>
<line x1="1031.7" y1="1652.6" x2="1728" y2="1652.6" stroke="#333" stroke-width="1.3" stroke-dasharray="4.5 3.5"/>
<line x1="1031.7" y1="1480.9" x2="1031.7" y2="1742.2" stroke="#000" stroke-width="1.8"/>
<line x1="1022.7" y1="1741.2" x2="1724" y2="1741.2" stroke="#000" stroke-width="1.8"/>
<line x1="1022" y1="1481.9" x2="1031.7" y2="1481.9" stroke="#000" stroke-width="1.8"/>
<line x1="1022" y1="1516.05" x2="1031.7" y2="1516.05" stroke="#000" stroke-width="1.8"/>
<line x1="1022" y1="1550.2" x2="1031.7" y2="1550.2" stroke="#000" stroke-width="1.8"/>
<line x1="1022" y1="1584.35" x2="1031.7" y2="1584.35" stroke="#000" stroke-width="1.8"/>
<line x1="1022" y1="1618.5" x2="1031.7" y2="1618.5" stroke="#000" stroke-width="1.8"/>
<line x1="1022" y1="1652.65" x2="1031.7" y2="1652.65" stroke="#000" stroke-width="1.8"/>
<line x1="1022" y1="1686.8" x2="1031.7" y2="1686.8" stroke="#000" stroke-width="1.8"/>
<line x1="1022" y1="1720.95" x2="1031.7" y2="1720.95" stroke="#000" stroke-width="1.8"/>
<line x1="1031.7" y1="1741.2" x2="1031.7" y2="1754.2" stroke="#000" stroke-width="1.8"/>
<line x1="1377.75" y1="1741.2" x2="1377.75" y2="1754.2" stroke="#000" stroke-width="1.8"/>
<line x1="1723.8" y1="1741.2" x2="1723.8" y2="1754.2" stroke="#000" stroke-width="1.8"/>
<line x1="1100.91" y1="1741.2" x2="1100.91" y2="1749.7" stroke="#000" stroke-width="1.8"/>
<line x1="1170.12" y1="1741.2" x2="1170.12" y2="1749.7" stroke="#000" stroke-width="1.8"/>
<line x1="1239.33" y1="1741.2" x2="1239.33" y2="1749.7" stroke="#000" stroke-width="1.8"/>
<line x1="1308.54" y1="1741.2" x2="1308.54" y2="1749.7" stroke="#000" stroke-width="1.8"/>
<line x1="1446.96" y1="1741.2" x2="1446.96" y2="1749.7" stroke="#000" stroke-width="1.8"/>
<line x1="1516.17" y1="1741.2" x2="1516.17" y2="1749.7" stroke="#000" stroke-width="1.8"/>
<line x1="1585.38" y1="1741.2" x2="1585.38" y2="1749.7" stroke="#000" stroke-width="1.8"/>
<line x1="1654.59" y1="1741.2" x2="1654.59" y2="1749.7" stroke="#000" stroke-width="1.8"/>
<rect x="1267.5" y="1722.2" width="8.5" height="17.5" fill="#000"/>
<rect x="1300.4" y="1722.2" width="10.6" height="17.5" fill="#000"/>
<rect x="1383.5" y="1722.2" width="32.9" height="17.5" fill="#000"/>
<rect x="1468.9" y="1722.2" width="13.6" height="17.5" fill="#000"/>
<rect x="1693.2" y="1722.2" width="9" height="17.5" fill="#000"/>
<polygon points="138.6,2246.93 155.89,2242.14 173.18,2110.07 190.47,2190.51 207.76,2219.02 225.05,2232.37 242.34,2190.91 259.63,2235.46 276.92,2223.7 294.21,2175.76 311.5,2131.2 328.79,2124.62 346.08,2038.6 363.37,1951.58 380.66,1960.25 397.95,2020.86 415.24,2041.59 432.53,2081.66 449.82,2100 467.11,2019.06 484.4,2094.72 501.69,2098.51 518.98,2164.89 536.27,2120.84 553.56,2170.28 570.85,2170.97 588.14,2190.31 605.43,2190.31 622.72,2246.93 640.01,2275.64 657.3,2276.33 674.59,2273.24 691.88,2226 709.17,2262.78 726.46,2270.15 743.75,2246.03 761.04,2242.44 778.33,2255.5 795.62,2307.53 812.91,2274.24 812.91,2302.15 795.62,2335.44 778.33,2285.4 761.04,2272.35 743.75,2275.93 726.46,2300.06 709.17,2294.67 691.88,2257.89 674.59,2303.15 657.3,2306.24 640.01,2305.54 622.72,2278.82 605.43,2226.19 588.14,2226.19 570.85,2210.84 553.56,2210.15 536.27,2162.7 518.98,2202.77 501.69,2142.37 484.4,2138.58 467.11,2094.82 449.82,2155.82 432.53,2141.47 415.24,2109.37 397.95,2088.64 380.66,2041.99 363.37,2011.39 346.08,2088.44 328.79,2168.48 311.5,2175.06 294.21,2215.63 276.92,2259.59 259.63,2267.36 242.34,2226.79 225.05,2268.26 207.76,2258.89 190.47,2240.35 173.18,2191.81 155.89,2276.03 138.6,2280.82" fill="#a01616" fill-opacity="0.33"/>
<polygon points="138.6,2253.71 155.89,2297.07 173.18,2284.61 190.47,2263.47 207.76,2277.43 225.05,2266.07 242.34,2271.55 259.63,2301.25 276.92,2261.88 294.21,2164.49 311.5,2191.01 328.79,2160.31 346.08,2079.87 363.37,2110.87 380.66,2058.54 397.95,2082.96 415.24,2102.2 432.53,2031.72 449.82,2045.28 467.11,2080.96 484.4,2038.6 501.69,2058.94 518.98,2090.93 536.27,2142.27 553.56,2104.69 570.85,2169.58 588.14,2127.02 605.43,2161.6 622.72,2259.59 640.01,2200.78 657.3,2230.68 674.59,2240.65 691.88,2256.6 709.17,2223.5 726.46,2277.93 743.75,2288.39 761.04,2264.67 778.33,2280.12 795.62,2270.15 812.91,2254.9 812.91,2286.8 795.62,2300.06 778.33,2310.02 761.04,2294.57 743.75,2318.3 726.46,2309.82 709.17,2257.39 691.88,2288.49 674.59,2274.54 657.3,2264.57 640.01,2232.67 622.72,2293.48 605.43,2205.46 588.14,2188.82 570.85,2209.45 553.56,2148.55 536.27,2182.14 518.98,2140.77 501.69,2108.77 484.4,2086.45 467.11,2134.79 449.82,2097.11 432.53,2083.56 415.24,2146.05 397.95,2132.8 380.66,2128.31 363.37,2154.73 346.08,2115.75 328.79,2204.17 311.5,2240.85 294.21,2232.28 276.92,2295.77 259.63,2335.14 242.34,2301.45 225.05,2295.97 207.76,2307.33 190.47,2293.38 173.18,2314.51 155.89,2326.97 138.6,2285.6" fill="#f4402f" fill-opacity="0.3"/>
<polyline points="138.6,2269.65 155.89,2312.02 173.18,2299.56 190.47,2278.43 207.76,2292.38 225.05,2281.02 242.34,2286.5 259.63,2318.2 276.92,2278.82 294.21,2198.38 311.5,2215.93 328.79,2182.24 346.08,2097.81 363.37,2132.8 380.66,2093.42 397.95,2107.88 415.24,2124.12 432.53,2057.64 449.82,2071.2 467.11,2107.88 484.4,2062.52 501.69,2083.85 518.98,2115.85 536.27,2162.2 553.56,2126.62 570.85,2189.51 588.14,2157.92 605.43,2183.53 622.72,2276.53 640.01,2216.73 657.3,2247.63 674.59,2257.59 691.88,2272.55 709.17,2240.45 726.46,2293.88 743.75,2303.35 761.04,2279.62 778.33,2295.07 795.62,2285.1 812.91,2270.85" fill="none" stroke="#f4402f" stroke-width="4.1" stroke-linejoin="round"/>
<polyline points="138.6,2263.87 155.89,2259.09 173.18,2150.94 190.47,2215.43 207.76,2238.95 225.05,2250.32 242.34,2208.85 259.63,2251.41 276.92,2241.65 294.21,2195.69 311.5,2153.13 328.79,2146.55 346.08,2063.52 363.37,1981.49 380.66,2001.12 397.95,2054.75 415.24,2075.48 432.53,2111.57 449.82,2127.91 467.11,2056.94 484.4,2116.65 501.69,2120.44 518.98,2183.83 536.27,2141.77 553.56,2190.21 570.85,2190.91 588.14,2208.25 605.43,2208.25 622.72,2262.88 640.01,2290.59 657.3,2291.28 674.59,2288.19 691.88,2241.94 709.17,2278.73 726.46,2285.1 743.75,2260.98 761.04,2257.39 778.33,2270.45 795.62,2321.49 812.91,2288.19" fill="none" stroke="#a01616" stroke-width="4.1" stroke-linejoin="round"/>
<rect x="130.3" y="1899.4" width="51.5" height="510.9" fill="#cbbbd3" style="mix-blend-mode:multiply"/>
<line x1="130" y1="1898.5" x2="130" y2="2410.3" stroke="#000" stroke-width="1.8"/>
<line x1="120.2" y1="2410.3" x2="822.3" y2="2410.3" stroke="#000" stroke-width="1.8"/>
<line x1="120.7" y1="1899.4" x2="130" y2="1899.4" stroke="#000" stroke-width="1.8"/>
<line x1="120.7" y1="2069.5" x2="130" y2="2069.5" stroke="#000" stroke-width="1.8"/>
<line x1="120.7" y1="2240" x2="130" y2="2240" stroke="#000" stroke-width="1.8"/>
<line x1="120.7" y1="2410.3" x2="130" y2="2410.3" stroke="#000" stroke-width="1.8"/>
<line x1="129.7" y1="2410.3" x2="129.7" y2="2423.3" stroke="#000" stroke-width="1.8"/>
<line x1="198.8" y1="2410.3" x2="198.8" y2="2418.8" stroke="#000" stroke-width="1.8"/>
<line x1="267.9" y1="2410.3" x2="267.9" y2="2418.8" stroke="#000" stroke-width="1.8"/>
<line x1="337" y1="2410.3" x2="337" y2="2418.8" stroke="#000" stroke-width="1.8"/>
<line x1="406.1" y1="2410.3" x2="406.1" y2="2418.8" stroke="#000" stroke-width="1.8"/>
<line x1="475.2" y1="2410.3" x2="475.2" y2="2423.3" stroke="#000" stroke-width="1.8"/>
<line x1="544.3" y1="2410.3" x2="544.3" y2="2418.8" stroke="#000" stroke-width="1.8"/>
<line x1="613.4" y1="2410.3" x2="613.4" y2="2418.8" stroke="#000" stroke-width="1.8"/>
<line x1="682.5" y1="2410.3" x2="682.5" y2="2418.8" stroke="#000" stroke-width="1.8"/>
<line x1="751.6" y1="2410.3" x2="751.6" y2="2418.8" stroke="#000" stroke-width="1.8"/>
<line x1="820.7" y1="2410.3" x2="820.7" y2="2423.3" stroke="#000" stroke-width="1.8"/>
<rect x="172" y="2391" width="5.8" height="17.8" fill="#000"/>
<rect x="239" y="2391" width="31" height="17.8" fill="#000"/>
<rect x="356" y="2391" width="19.8" height="17.8" fill="#000"/>
<polygon points="1037.3,2136.91 1054.61,2147.08 1071.92,2190.95 1089.23,2139.3 1106.54,2207.8 1123.85,2240.1 1141.16,2181.57 1158.47,2196.13 1175.78,2183.07 1193.09,2075.89 1210.4,2202.51 1227.71,2166.72 1245.02,2149.67 1262.33,2168.01 1279.64,2128.23 1296.95,2200.12 1314.26,2159.74 1331.57,2245.39 1348.88,2229.33 1366.19,2160.84 1383.5,2262.54 1400.81,2257.35 1418.12,2244.29 1435.43,2195.23 1452.74,2177.19 1470.05,2297.63 1487.36,2174.5 1504.67,2248.28 1521.98,2224.85 1539.29,2251.47 1556.6,2190.45 1573.91,2157.94 1591.22,2227.44 1608.53,2276.6 1625.84,2296.64 1643.15,2266.53 1660.46,2203.81 1677.77,2260.44 1695.08,2208.6 1712.39,2184.27 1712.39,2234.12 1695.08,2252.47 1677.77,2300.33 1660.46,2249.67 1643.15,2302.42 1625.84,2324.55 1608.53,2306.51 1591.22,2277.29 1573.91,2237.71 1556.6,2250.27 1539.29,2291.35 1521.98,2264.73 1504.67,2292.15 1487.36,2234.32 1470.05,2323.56 1452.74,2227.04 1435.43,2243.09 1418.12,2284.17 1400.81,2289.26 1383.5,2294.44 1366.19,2210.69 1348.88,2271.21 1331.57,2281.28 1314.26,2219.56 1296.95,2249.97 1279.64,2206 1262.33,2221.86 1245.02,2209.49 1227.71,2226.54 1210.4,2270.31 1193.09,2155.65 1175.78,2232.92 1158.47,2240 1141.16,2231.43 1123.85,2279.99 1106.54,2257.65 1089.23,2205.11 1071.92,2240.8 1054.61,2206.9 1037.3,2198.72" fill="#213a8a" fill-opacity="0.3"/>
<polygon points="1037.3,2169.21 1054.61,2259.05 1071.92,2194.24 1089.23,2194.64 1106.54,2236.01 1123.85,2257.45 1141.16,2219.56 1158.47,2265.53 1175.78,2215.87 1193.09,2225.55 1210.4,2275.6 1227.71,2215.28 1245.02,2230.53 1262.33,2247.88 1279.64,2211.99 1296.95,2210.89 1314.26,2123.35 1331.57,2155.35 1348.88,2182.47 1366.19,2150.27 1383.5,2198.13 1400.81,2129.33 1418.12,2114.47 1435.43,2169.61 1452.74,2130.52 1470.05,2198.72 1487.36,2221.26 1504.67,2211.89 1521.98,2227.84 1539.29,2215.97 1556.6,2174.4 1573.91,2181.08 1591.22,2209.99 1608.53,2195.73 1625.84,2201.72 1643.15,2240.5 1660.46,2185.06 1677.77,2179.58 1695.08,2204.21 1712.39,2213.68 1712.39,2271.51 1695.08,2254.06 1677.77,2223.45 1660.46,2228.94 1643.15,2280.38 1625.84,2245.59 1608.53,2239.6 1591.22,2253.86 1573.91,2224.95 1556.6,2218.27 1539.29,2259.84 1521.98,2271.71 1504.67,2255.76 1487.36,2271.11 1470.05,2248.58 1452.74,2174.4 1435.43,2213.48 1418.12,2152.36 1400.81,2173.2 1383.5,2242 1366.19,2194.14 1348.88,2226.34 1331.57,2205.21 1314.26,2179.18 1296.95,2254.76 1279.64,2255.86 1262.33,2287.76 1245.02,2274.4 1227.71,2259.15 1210.4,2315.48 1193.09,2269.42 1175.78,2259.75 1158.47,2309.4 1141.16,2263.43 1123.85,2301.32 1106.54,2279.89 1089.23,2242.5 1071.92,2242.1 1054.61,2318.87 1037.3,2233.02" fill="#4a80ef" fill-opacity="0.3"/>
<polyline points="1037.3,2201.12 1054.61,2288.96 1071.92,2218.17 1089.23,2218.57 1106.54,2257.95 1123.85,2279.39 1141.16,2241.5 1158.47,2287.46 1175.78,2237.81 1193.09,2247.48 1210.4,2295.54 1227.71,2237.21 1245.02,2252.47 1262.33,2267.82 1279.64,2233.92 1296.95,2232.82 1314.26,2151.26 1331.57,2180.28 1348.88,2204.41 1366.19,2172.2 1383.5,2220.06 1400.81,2151.26 1418.12,2133.42 1435.43,2191.55 1452.74,2152.46 1470.05,2223.65 1487.36,2246.18 1504.67,2233.82 1521.98,2249.77 1539.29,2237.91 1556.6,2196.33 1573.91,2203.01 1591.22,2231.93 1608.53,2217.67 1625.84,2223.65 1643.15,2260.44 1660.46,2207 1677.77,2201.52 1695.08,2229.13 1712.39,2242.6" fill="none" stroke="#4a80ef" stroke-width="4.1" stroke-linejoin="round"/>
<polyline points="1037.3,2167.82 1054.61,2176.99 1071.92,2215.87 1089.23,2172.2 1106.54,2232.72 1123.85,2260.04 1141.16,2206.5 1158.47,2218.07 1175.78,2208 1193.09,2115.77 1210.4,2236.41 1227.71,2196.63 1245.02,2179.58 1262.33,2194.94 1279.64,2167.12 1296.95,2225.05 1314.26,2189.65 1331.57,2263.33 1348.88,2250.27 1366.19,2185.76 1383.5,2278.49 1400.81,2273.31 1418.12,2264.23 1435.43,2219.16 1452.74,2202.11 1470.05,2310.6 1487.36,2204.41 1504.67,2270.21 1521.98,2244.79 1539.29,2271.41 1556.6,2220.36 1573.91,2197.83 1591.22,2252.37 1608.53,2291.55 1625.84,2310.6 1643.15,2284.47 1660.46,2226.74 1677.77,2280.38 1695.08,2230.53 1712.39,2209.19" fill="none" stroke="#213a8a" stroke-width="4.1" stroke-linejoin="round"/>
<rect x="1029" y="1900.6" width="50.8" height="510.7" fill="#cbbbd3" style="mix-blend-mode:multiply"/>
<line x1="1028.6" y1="1899.6" x2="1028.6" y2="2411.3" stroke="#000" stroke-width="1.8"/>
<line x1="1020" y1="2411.3" x2="1720" y2="2411.3" stroke="#000" stroke-width="1.8"/>
<line x1="1020.5" y1="1900.6" x2="1028.6" y2="1900.6" stroke="#000" stroke-width="1.8"/>
<line x1="1020.5" y1="2070.5" x2="1028.6" y2="2070.5" stroke="#000" stroke-width="1.8"/>
<line x1="1020.5" y1="2240.9" x2="1028.6" y2="2240.9" stroke="#000" stroke-width="1.8"/>
<line x1="1020.5" y1="2411.3" x2="1028.6" y2="2411.3" stroke="#000" stroke-width="1.8"/>
<line x1="1028.6" y1="2411.3" x2="1028.6" y2="2424.3" stroke="#000" stroke-width="1.8"/>
<line x1="1097.74" y1="2411.3" x2="1097.74" y2="2419.8" stroke="#000" stroke-width="1.8"/>
<line x1="1166.88" y1="2411.3" x2="1166.88" y2="2419.8" stroke="#000" stroke-width="1.8"/>
<line x1="1236.02" y1="2411.3" x2="1236.02" y2="2419.8" stroke="#000" stroke-width="1.8"/>
<line x1="1305.16" y1="2411.3" x2="1305.16" y2="2419.8" stroke="#000" stroke-width="1.8"/>
<line x1="1374.3" y1="2411.3" x2="1374.3" y2="2424.3" stroke="#000" stroke-width="1.8"/>
<line x1="1443.44" y1="2411.3" x2="1443.44" y2="2419.8" stroke="#000" stroke-width="1.8"/>
<line x1="1512.58" y1="2411.3" x2="1512.58" y2="2419.8" stroke="#000" stroke-width="1.8"/>
<line x1="1581.72" y1="2411.3" x2="1581.72" y2="2419.8" stroke="#000" stroke-width="1.8"/>
<line x1="1650.86" y1="2411.3" x2="1650.86" y2="2419.8" stroke="#000" stroke-width="1.8"/>
<line x1="1720" y1="2411.3" x2="1720" y2="2424.3" stroke="#000" stroke-width="1.8"/>
<rect x="1393.4" y="2392.3" width="35.4" height="17.5" fill="#000"/>
<rect x="1673.8" y="2392.3" width="8.2" height="17.5" fill="#000"/>
<text x="2.8" y="33.8" font-size="42" textLength="27.78" lengthAdjust="spacingAndGlyphs">A</text>
<text x="984.47" y="33.1" font-size="42" textLength="29.42" lengthAdjust="spacingAndGlyphs">B</text>
<text x="2" y="952.5" font-size="42" textLength="31.73" lengthAdjust="spacingAndGlyphs">C</text>
<text x="983.03" y="951.7" font-size="42" textLength="33.14" lengthAdjust="spacingAndGlyphs">D</text>
<text x="2.78" y="1868.8" font-size="42.5" textLength="27.66" lengthAdjust="spacingAndGlyphs">E</text>
<text x="983.14" y="1869" font-size="42" textLength="27.18" lengthAdjust="spacingAndGlyphs">F</text>
<text x="331.7" y="35.6" font-size="35" textLength="310.18" lengthAdjust="spacingAndGlyphs">Auditory-responsive</text>
<text x="1266.04" y="34.9" font-size="35" textLength="226.5" lengthAdjust="spacingAndGlyphs">CSI-significant</text>
<text x="320.65" y="955" font-size="35" textLength="304.11" lengthAdjust="spacingAndGlyphs">CA1 CSI-significant</text>
<text x="1230.7" y="952.7" font-size="35" textLength="288.14" lengthAdjust="spacingAndGlyphs">DG CSI-significant</text>
<text x="312.94" y="1871.3" font-size="35" textLength="328.69" lengthAdjust="spacingAndGlyphs">CA1 vs DG (Deviant)</text>
<text x="1198.64" y="1870.6" font-size="35" textLength="352.4" lengthAdjust="spacingAndGlyphs">CA1 vs DG (Standard)</text>
<text x="665.31" y="93.5" font-size="35.5" textLength="118.42" lengthAdjust="spacingAndGlyphs">n = 177</text>
<text x="1599.69" y="92.8" font-size="35" textLength="99.84" lengthAdjust="spacingAndGlyphs">n = 43</text>
<text x="689.68" y="1007.9" font-size="35" textLength="100.13" lengthAdjust="spacingAndGlyphs">n = 21</text>
<text x="1600.66" y="1009" font-size="35" textLength="101.26" lengthAdjust="spacingAndGlyphs">n = 22</text>
<line x1="645.3" y1="133.8" x2="711.2" y2="133.8" stroke="#da282d" stroke-width="5.3"/>
<line x1="645.3" y1="172.8" x2="711.2" y2="172.8" stroke="#30499c" stroke-width="5.3"/>
<text x="735.1" y="143.4" font-size="36.5" textLength="72.02" lengthAdjust="spacingAndGlyphs">DEV</text>
<text x="737.03" y="182.3" font-size="36.5" textLength="69.74" lengthAdjust="spacingAndGlyphs">STD</text>
<rect x="1509.4" y="123.1" width="27.2" height="17.9" fill="#000"/>
<text x="1565.7" y="139.7" font-size="35.5" textLength="127.79" lengthAdjust="spacingAndGlyphs">p ≤ 0.05</text>
<line x1="1430.5" y1="577" x2="1496.9" y2="577" stroke="#6a16b0" stroke-width="5.3"/>
<text x="1511.09" y="584.2" font-size="36" textLength="173.49" lengthAdjust="spacingAndGlyphs">DEV - STD</text>
<line x1="555.2" y1="1923.5" x2="621.5" y2="1923.5" stroke="#a01616" stroke-width="5.5"/>
<line x1="555.2" y1="1963.5" x2="621.5" y2="1963.5" stroke="#f4402f" stroke-width="5.5"/>
<text x="632.99" y="1931.2" font-size="36" textLength="134.63" lengthAdjust="spacingAndGlyphs">DG DEV</text>
<text x="633.25" y="1976.8" font-size="36" textLength="149.78" lengthAdjust="spacingAndGlyphs">CA1 DEV</text>
<line x1="1471.7" y1="1922" x2="1538.2" y2="1922" stroke="#213a8a" stroke-width="5.5"/>
<line x1="1471.7" y1="1962" x2="1538.2" y2="1962" stroke="#4a80ef" stroke-width="5.5"/>
<text x="1549.38" y="1931.7" font-size="36" textLength="133.11" lengthAdjust="spacingAndGlyphs">DG STD</text>
<text x="1549.95" y="1974.8" font-size="36" textLength="147.94" lengthAdjust="spacingAndGlyphs">CA1 STD</text>
<text x="38.6" y="589.41" font-size="42.5" textLength="348.7" lengthAdjust="spacingAndGlyphs" transform="rotate(-90 38.6 589.41)">Normalized spikes</text>
<text x="39.2" y="1516.62" font-size="42.5" textLength="349.71" lengthAdjust="spacingAndGlyphs" transform="rotate(-90 39.2 1516.62)">Normalized spikes</text>
<text x="39.2" y="2293.01" font-size="42.5" textLength="348.29" lengthAdjust="spacingAndGlyphs" transform="rotate(-90 39.2 2293.01)">Normalized spikes</text>
<text x="52.65" y="68.6" font-size="33" textLength="43.6" lengthAdjust="spacingAndGlyphs">1.4</text>
<text x="89.94" y="205.8" font-size="33">1</text>
<text x="52.73" y="376.6" font-size="33" textLength="44.04" lengthAdjust="spacingAndGlyphs">0.5</text>
<text x="87.81" y="543.3" font-size="33">0</text>
<text x="88.94" y="577.8" font-size="33">1</text>
<text x="79.41" y="738.5" font-size="33">0</text>
<text x="52.68" y="989.9" font-size="33" textLength="42.95" lengthAdjust="spacingAndGlyphs">1.4</text>
<text x="89.44" y="1126" font-size="33">1</text>
<text x="52.25" y="1299.8" font-size="33" textLength="43.51" lengthAdjust="spacingAndGlyphs">0.5</text>
<text x="87.46" y="1464.8" font-size="33">0</text>
<text x="88.24" y="1495" font-size="33">1</text>
<text x="77.86" y="1665.4" font-size="33">0</text>
<text x="51.84" y="1908.3" font-size="33" textLength="45.58" lengthAdjust="spacingAndGlyphs">1.5</text>
<text x="89.44" y="2078.1" font-size="33">1</text>
<text x="53.02" y="2251" font-size="33" textLength="44.36" lengthAdjust="spacingAndGlyphs">0.5</text>
<text x="88.06" y="2421.2" font-size="33">0</text>
<text x="118.51" y="2457.8" font-size="33" textLength="17.96" lengthAdjust="spacingAndGlyphs">0</text>
<text x="448" y="2457.6" font-size="33" textLength="45.21" lengthAdjust="spacingAndGlyphs">0.5</text>
<text x="813.85" y="2457.7" font-size="33">1</text>
<text x="415.78" y="2492.4" font-size="31" textLength="113.33" lengthAdjust="spacingAndGlyphs">Time (s)</text>
<text x="1016.59" y="2457.9" font-size="33" textLength="18.19" lengthAdjust="spacingAndGlyphs">0</text>
<text x="1346.73" y="2457.9" font-size="33" textLength="44.15" lengthAdjust="spacingAndGlyphs">0.5</text>
<text x="1711.24" y="2457.9" font-size="33">1</text>
<text x="1307.57" y="2492.4" font-size="31" textLength="113.43" lengthAdjust="spacingAndGlyphs">Time (s)</text>
</svg>
</body></html>
